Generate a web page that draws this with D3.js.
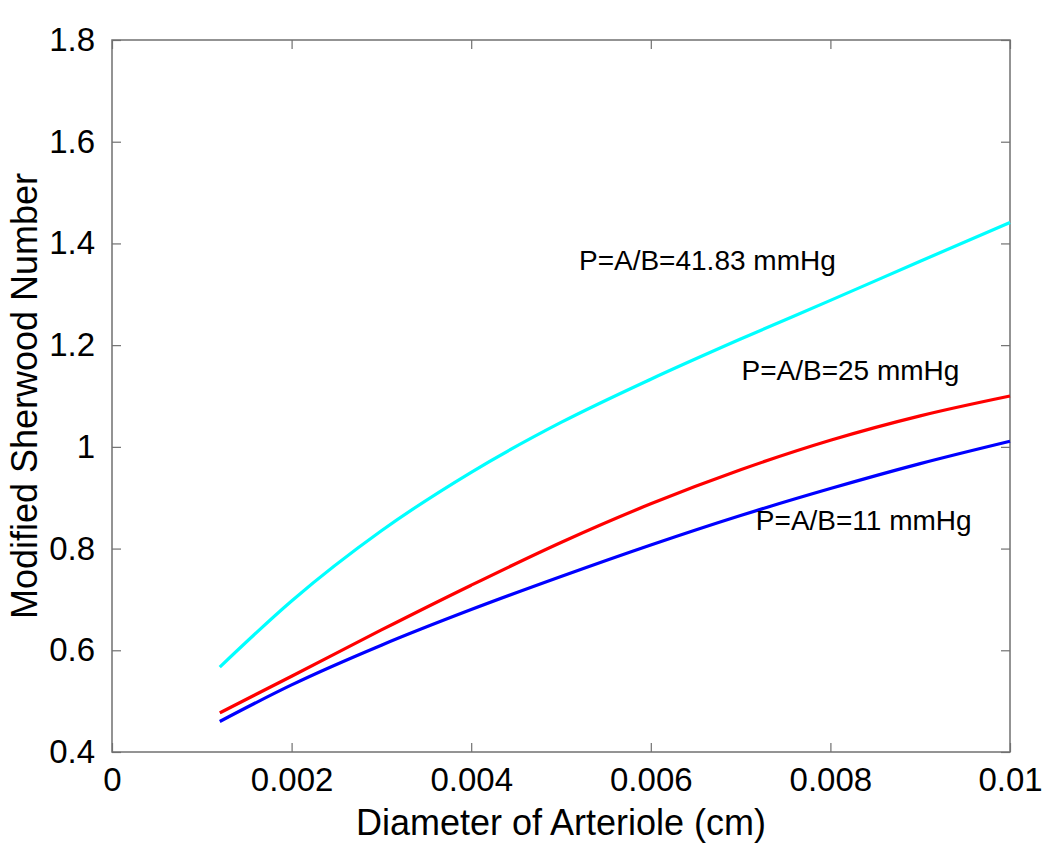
<!DOCTYPE html>
<html>
<head>
<meta charset="utf-8">
<script src="https://cdn.jsdelivr.net/npm/d3@7"></script>
<style>
  body { margin: 0; background: #fff; }
  text { font-family: "Liberation Sans", Arial, sans-serif; fill: #000; }
</style>
</head>
<body>
<svg id="chart" width="1050" height="849"></svg>
<script>
// diameter of arteriole (cm)
const diameters = [0.0012, 0.002, 0.003, 0.004, 0.005, 0.006, 0.007, 0.008, 0.009, 0.01];
const sh11 = [0.460, 0.532, 0.610, 0.680, 0.745, 0.807, 0.865, 0.918, 0.967, 1.011];
const sh25 = [0.477, 0.549, 0.640, 0.728, 0.812, 0.888, 0.955, 1.013, 1.061, 1.100];
const sh4183 = [0.567, 0.697, 0.835, 0.950, 1.048, 1.133, 1.212, 1.288, 1.365, 1.441];

const xTicks = [0, 0.002, 0.004, 0.006, 0.008, 0.01];
const xTickLabels = ["0", "0.002", "0.004", "0.006", "0.008", "0.01"];
const yTicks = [0.4, 0.6, 0.8, 1.0, 1.2, 1.4, 1.6, 1.8];
const yTickLabels = ["0.4", "0.6", "0.8", "1", "1.2", "1.4", "1.6", "1.8"];

const series = [
  { name: "P=A/B=41.83 mmHg", values: sh4183, color: "#00ffff", lx: 0.00520, ly: 1.347 },
  { name: "P=A/B=25 mmHg", values: sh25, color: "#ff0000", lx: 0.00701, ly: 1.131 },
  { name: "P=A/B=11 mmHg", values: sh11, color: "#0000ff", lx: 0.00717, ly: 0.836 }
];

const mLeft = 112, mRight = 1010, mTop = 40, mBottom = 752;
const svg = d3.select("#chart");

const x = d3.scaleLinear().domain([0, 0.01]).range([mLeft, mRight]);
const y = d3.scaleLinear().domain([0.4, 1.8]).range([mBottom, mTop]);

// box
svg.append("rect")
  .attr("x", mLeft).attr("y", mTop)
  .attr("width", mRight - mLeft).attr("height", mBottom - mTop)
  .attr("fill", "none").attr("stroke", "#707070").attr("stroke-width", 1.5);

const tickLen = 9;
// inward ticks, all four sides
const xAxisB = d3.axisBottom(x).tickValues(xTicks).tickSizeInner(-tickLen).tickSizeOuter(0)
  .tickPadding(16).tickFormat((d, i) => xTickLabels[i]);
const xAxisT = d3.axisTop(x).tickValues(xTicks).tickSizeInner(-tickLen).tickSizeOuter(0)
  .tickFormat("");
const yAxisL = d3.axisLeft(y).tickValues(yTicks).tickSizeInner(-tickLen).tickSizeOuter(0)
  .tickPadding(17).tickFormat((d, i) => yTickLabels[i]);
const yAxisR = d3.axisRight(y).tickValues(yTicks).tickSizeInner(-tickLen).tickSizeOuter(0)
  .tickFormat("");

const gB = svg.append("g").attr("transform", `translate(0,${mBottom})`).call(xAxisB);
const gT = svg.append("g").attr("transform", `translate(0,${mTop})`).call(xAxisT);
const gL = svg.append("g").attr("transform", `translate(${mLeft},0)`).call(yAxisL);
const gR = svg.append("g").attr("transform", `translate(${mRight},0)`).call(yAxisR);

[gB, gT, gL, gR].forEach(g => {
  g.select(".domain").remove();
  g.selectAll(".tick line").attr("stroke", "#707070").attr("stroke-width", 1.2);
  g.selectAll("text").style("font-size", "33px").style("fill", "#000");
});
gB.selectAll("text").attr("dy", "0.71em");

// curves
const line = d3.line()
  .x((d, i) => x(diameters[i]))
  .y(d => y(d))
  .curve(d3.curveMonotoneX);

series.forEach(s => {
  svg.append("path")
    .datum(s.values)
    .attr("d", line)
    .attr("fill", "none")
    .attr("stroke", s.color)
    .attr("stroke-width", 3.2);
  svg.append("text")
    .attr("x", x(s.lx)).attr("y", y(s.ly))
    .style("font-size", "28px")
    .text(s.name);
});

// axis titles
svg.append("text")
  .attr("x", (mLeft + mRight) / 2).attr("y", 835)
  .attr("text-anchor", "middle")
  .style("font-size", "36px")
  .text("Diameter of Arteriole (cm)");

svg.append("text")
  .attr("transform", `translate(37,${(mTop + mBottom) / 2}) rotate(-90)`)
  .attr("text-anchor", "middle")
  .style("font-size", "36px")
  .text("Modified Sherwood Number");
</script>
</body>
</html>
